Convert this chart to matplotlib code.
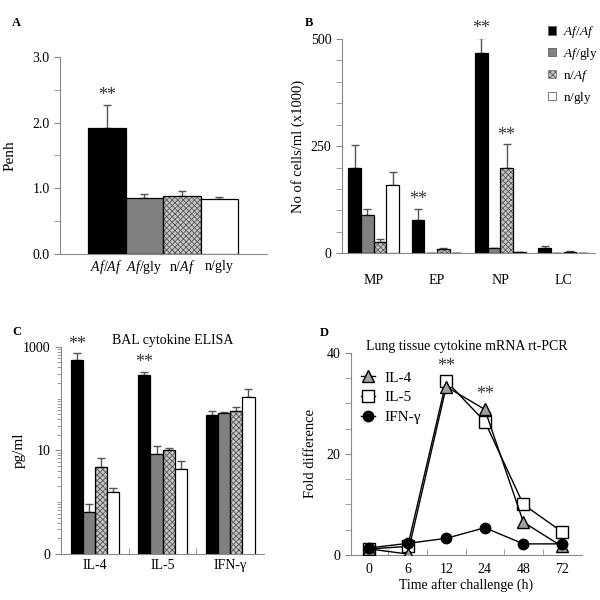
import numpy as np
import matplotlib
matplotlib.use('Agg')
import matplotlib.pyplot as plt
from matplotlib.ticker import MultipleLocator, FixedLocator, LogLocator, NullFormatter

plt.rcParams['font.family'] = ['Liberation Serif', 'DejaVu Serif']
plt.rcParams['mathtext.fontset'] = 'custom'
plt.rcParams['mathtext.rm'] = 'Liberation Serif'
plt.rcParams['mathtext.it'] = 'Liberation Serif:italic'
plt.rcParams['hatch.linewidth'] = 0.6

# 数据
groups = [r'$\mathit{Af/Af}$', r'$\mathit{Af}\mathrm{/gly}$', r'$\mathrm{n/}\mathit{Af}$', r'$\mathrm{n/gly}$']

penh = [1.92, 0.85, 0.88, 0.83]
penh_err = [0.35, 0.06, 0.07, 0.04]

cell_types = ['MP', 'EP', 'NP', 'LC']
cells = [[198, 78, 467, 12],
         [89, 1, 11, 1],
         [25, 9, 198, 3],
         [159, 0, 2, 0]]
cells_err = [[55, 25, 36, 4],
             [14, 0, 1, 0],
             [8, 3, 56, 1],
             [30, 0, 0, 0]]

cytokines = ['IL-4', 'IL-5', 'IFN-γ']
elisa = [[553, 280, 48],
         [0.65, 8.6, 53],
         [4.7, 10.0, 58],
         [1.55, 4.3, 108]]
elisa_err = [[190, 45, 10],
             [0.27, 3.5, 2],
             [2.5, 0.9, 10],
             [0.3, 1.8, 42]]

times = ['0', '6', '12', '24', '48', '72']
il4 = [1.2, 0.2, 33.3, 28.8, 6.5, 1.7]
il5 = [1.2, 1.7, 34.4, 26.4, 10.0, 4.6]
ifng = [1.4, 2.3, 3.3, 5.4, 2.2, 2.2]

SPINE = '#8a8a8a'
ERR = '#555555'
FS = 10
styles = [dict(color='black'),
          dict(color='#808080'),
          dict(color='#c4c4c4', hatch='xxxxxx'),
          dict(color='white')]


def style_axes(ax):
    for s in ['top', 'right']:
        ax.spines[s].set_visible(False)
    for s in ['left', 'bottom']:
        ax.spines[s].set_color(SPINE)
    ax.tick_params(axis='y', which='both', color=SPINE, direction='out', labelsize=FS)
    ax.tick_params(axis='y', which='major', length=4)
    ax.tick_params(axis='y', which='minor', length=4)
    ax.tick_params(axis='x', labelsize=FS, length=0)


def draw_bars(ax, x, vals, errs, st):
    if 'hatch' in st:
        ax.bar(x, vals, width, color=st['color'], edgecolor='#5a5a5a', hatch=st['hatch'],
               linewidth=0, zorder=2)
        bars = ax.bar(x, vals, width, fill=False, edgecolor='black', linewidth=0.9, zorder=3)
    else:
        bars = ax.bar(x, vals, width, color=st['color'], edgecolor='black', linewidth=0.9, zorder=3)
    ax.errorbar(x, vals, yerr=[np.zeros(len(vals)), errs], fmt='none', ecolor=ERR,
                elinewidth=1, capsize=3, capthick=1, zorder=1)
    return bars


fig = plt.figure(figsize=(6, 6), dpi=100)

# A
ax = fig.add_axes([0.100, 0.577, 0.345, 0.328])
style_axes(ax)
width = 1.0
xa = np.arange(4)
for i in range(4):
    draw_bars(ax, [xa[i]], [penh[i]], [penh_err[i]], styles[i])
ax.set_xlim(-1.25, 4.27)
ax.set_ylim(0, 3.0)
ax.yaxis.set_major_locator(MultipleLocator(1.0))
ax.yaxis.set_minor_locator(MultipleLocator(0.5))
ax.yaxis.set_major_formatter(plt.FormatStrFormatter('%.1f'))
ax.set_xticks(xa)
ax.set_xticklabels(groups)
ax.tick_params(axis='x', pad=3)
ax.set_ylabel('Penh', fontsize=11)
ax.yaxis.set_label_coords(-0.21, 0.5)
ax.text(xa[0], penh[0] + penh_err[0] + 0.02, '**', ha='center', va='bottom', fontsize=13, color='#333333')
fig.text(0.02, 0.962, 'A', fontsize=9, fontweight='bold', va='center')

# B
ax = fig.add_axes([0.570, 0.578, 0.422, 0.357])
style_axes(ax)
width = 0.2
xb = np.arange(len(cell_types))
for i in range(4):
    draw_bars(ax, xb - 0.3 + i * width, cells[i], cells_err[i], styles[i])
ax.set_xlim(-0.5, 3.5)
ax.set_ylim(0, 500)
ax.yaxis.set_major_locator(MultipleLocator(250))
ax.yaxis.set_minor_locator(MultipleLocator(50))
ax.set_xticks(xb)
ax.set_xticklabels(cell_types)
ax.tick_params(axis='x', pad=15)
ax.set_ylabel('No of cells/ml (x1000)', fontsize=10.5)
ax.yaxis.set_label_coords(-0.145, 0.5)
for gi, si in [(1, 0), (2, 0), (2, 2)]:
    xx = gi - 0.3 + si * width
    yy = cells[si][gi] + cells_err[si][gi]
    ax.text(xx, yy + 2, '**', ha='center', va='bottom', fontsize=13, color='#333333')
handles = []
for st in styles:
    if 'hatch' in st:
        handles.append(plt.Rectangle((0, 0), 1, 1, facecolor=st['color'], edgecolor='#5a5a5a',
                                     hatch=st['hatch'], linewidth=0.4))
    else:
        handles.append(plt.Rectangle((0, 0), 1, 1, facecolor=st['color'], edgecolor='#606060',
                                     linewidth=0.6))
ax.legend(handles, groups, loc='upper left', bbox_to_anchor=(0.815, 1.07), frameon=False,
          fontsize=9.5, handlelength=0.6, handleheight=0.6, handletextpad=0.5, labelspacing=0.45,
          borderpad=0, borderaxespad=0)
fig.text(0.508, 0.962, 'B', fontsize=9, fontweight='bold', va='center')

# C
ax = fig.add_axes([0.102, 0.077, 0.338, 0.345])
style_axes(ax)
width = 0.18
xc = np.arange(len(cytokines))
for i in range(4):
    draw_bars(ax, xc - 1.5 * width + i * width, elisa[i], elisa_err[i], styles[i])
ax.set_yscale('log')
ax.set_ylim(0.1, 1000)
ax.set_xlim(-0.5, 2.5)
ax.yaxis.set_major_locator(FixedLocator([0.1, 10, 1000]))
ax.yaxis.set_major_formatter(plt.FixedFormatter(['0', '10', '1000']))
ax.yaxis.set_minor_locator(LogLocator(base=10, subs=np.arange(1, 10), numticks=20))
ax.yaxis.set_minor_formatter(NullFormatter())
ax.tick_params(axis='y', which='minor', length=3)
ax.set_xticks(xc)
ax.set_xticklabels(cytokines)
ax.set_xticks([0.5, 1.5], minor=True)
ax.tick_params(axis='x', which='minor', direction='in', length=4, color=SPINE)
ax.set_ylabel('pg/ml', fontsize=11)
ax.yaxis.set_label_coords(-0.175, 0.5)
ax.set_title('BAL cytokine ELISA', fontsize=10, pad=2, x=0.55)
for gi in [0, 1]:
    xx = gi - 1.5 * width
    yy = elisa[0][gi] + elisa_err[0][gi]
    ax.text(xx, yy * 1.03, '**', ha='center', va='bottom', fontsize=13, color='#333333')
fig.text(0.02, 0.447, 'C', fontsize=9, fontweight='bold', va='center')

# D
ax = fig.add_axes([0.585, 0.075, 0.385, 0.337])
style_axes(ax)
xd = np.arange(len(times))
ax.plot(xd, il5, color='black', lw=1, marker='s', ms=8, mfc='white', mec='black', mew=1,
        label='IL-5', zorder=3)
ax.plot(xd, il4, color='black', lw=1, marker='^', ms=8, mfc='#a0a0a0', mec='black', mew=1,
        label='IL-4', zorder=4)
ax.plot(xd, ifng, color='black', lw=1, marker='o', ms=7.5, mfc='black', mec='black',
        label='IFN-γ', zorder=5)
ax.set_xlim(-0.47, 5.52)
ax.set_ylim(0, 40)
ax.yaxis.set_major_locator(MultipleLocator(20))
ax.yaxis.set_minor_locator(MultipleLocator(5))
ax.set_xticks(xd)
ax.set_xticklabels(times)
ax.set_xticks(xd[:-1] + 0.5, minor=True)
ax.tick_params(axis='x', which='minor', direction='in', length=4, color=SPINE)
ax.tick_params(axis='x', pad=6)
ax.set_xlabel('Time after challenge (h)', fontsize=10, labelpad=1)
ax.set_ylabel('Fold difference', fontsize=10.5)
ax.yaxis.set_label_coords(-0.147, 0.5)
ax.set_title('Lung tissue cytokine mRNA rt-PCR', fontsize=10, pad=2, x=0.50)
for gi in [2, 3]:
    yy = max(il4[gi], il5[gi])
    ax.text(xd[gi], yy + 1.2, '**', ha='center', va='bottom', fontsize=13, color='#333333')
h, l = ax.get_legend_handles_labels()
ax.legend([h[1], h[0], h[2]], [l[1], l[0], l[2]], loc='upper left', bbox_to_anchor=(0.045, 0.91),
          frameon=False, fontsize=FS + 1, handlelength=0.9, handletextpad=0.6, labelspacing=0.4,
          borderpad=0, borderaxespad=0)
fig.text(0.533, 0.445, 'D', fontsize=9, fontweight='bold', va='center')

fig.savefig('out.png', dpi=100)
